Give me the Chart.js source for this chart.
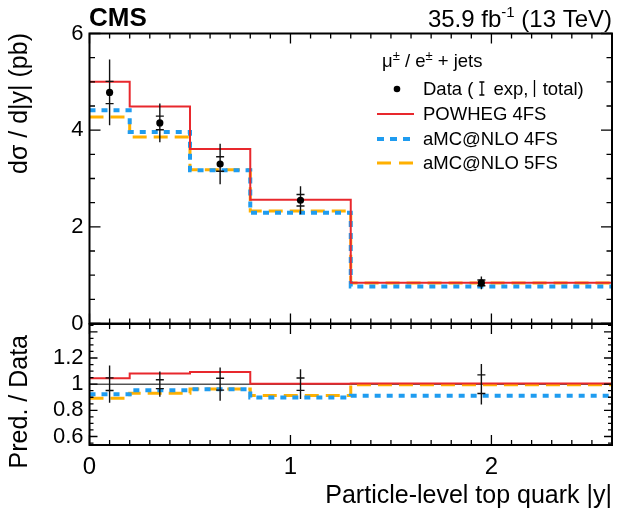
<!DOCTYPE html>
<html>
<head>
<meta charset="utf-8">
<script src="https://cdn.jsdelivr.net/npm/chart.js@4"></script>
<style>
  body { margin: 0; background: #fff; }
  #wrap { position: relative; width: 638px; height: 515px; }
  #wrap canvas { position: absolute; left: 0; top: 0; }
</style>
</head>
<body>
<div id="wrap">
  <canvas id="main" width="638" height="515"></canvas>
  <canvas id="ratio" width="638" height="515"></canvas>
</div>
<script>
// Bins en |y| du quark top et valeurs
const binEdges = [0, 0.2, 0.5, 0.8, 1.3, 2.6];
const dataVals = [4.78, 4.15, 3.30, 2.55, 0.84];
const dataExp = [0.23, 0.14, 0.15, 0.12, 0.06];
const dataTot = [0.68, 0.40, 0.42, 0.29, 0.13];
const powheg4FS = [5.00, 4.49, 3.61, 2.56, 0.845];
const amcnlo4FS = [4.41, 3.96, 3.17, 2.29, 0.765];
const amcnlo5FS = [4.27, 3.86, 3.18, 2.33, 0.837];

// Graduations
const xTickLabels = [0, 1, 2];
const yTickLabels = [0, 2, 4, 6];
const ratioTickLabels = [0.6, 0.8, 1, 1.2];

const FONT = "'Liberation Sans', Arial, Helvetica, sans-serif";
Chart.defaults.font.family = FONT;
Chart.defaults.color = '#000';

const RED = '#e8282d';
const BLUE = '#1f9cf0';
const ORANGE = '#ffb000';

// Centres des bins
const binCenters = dataVals.map((v, i) => (binEdges[i] + binEdges[i + 1]) / 2);

// Histogramme en escalier : une valeur par bord de bin
function stepPoints(vals) {
    return binEdges.map((e, i) => ({ x: e, y: vals[Math.min(i, vals.length - 1)] }));
}

// Barres d'erreur verticales (segments separes par des trous)
function errorSegments(center, errs) {
    let pts = [];
    binCenters.forEach((c, i) => {
        pts.push({ x: c, y: center[i] - errs[i] });
        pts.push({ x: c, y: center[i] + errs[i] });
        pts.push({ x: c, y: null });
    });
    return pts;
}

function capPoints(center, errs) {
    let pts = [];
    binCenters.forEach((c, i) => {
        pts.push({ x: c, y: center[i] - errs[i] });
        pts.push({ x: c, y: center[i] + errs[i] });
    });
    return pts;
}

const ones = dataVals.map(() => 1);
const ratioOf = arr => arr.map((v, i) => v / dataVals[i]);
const relExp = dataExp.map((e, i) => e / dataVals[i]);
const relTot = dataTot.map((e, i) => e / dataVals[i]);

function histDataset(vals, color, width, dash, order) {
    return {
        type: 'line', data: stepPoints(vals), stepped: true,
        borderColor: color, borderWidth: width, borderDash: dash,
        pointRadius: 0, fill: false, order: order
    };
}

// Cadre et graduations internes, style ROOT
const frameTicks = {
    id: 'frameTicks',
    afterDatasetsDraw(chart, args, opts) {
        const { ctx, chartArea: a } = chart;
        const x = chart.scales.x, y = chart.scales.y;
        ctx.save();
        ctx.strokeStyle = '#000';
        ctx.lineWidth = 1.3;
        ctx.beginPath();
        for (let k = 0; k <= 26; k++) {
            const px = x.getPixelForValue(k / 10);
            const len = k % 10 === 0 ? opts.xMajor : opts.xMinor;
            ctx.moveTo(px, a.bottom); ctx.lineTo(px, a.bottom - len);
            ctx.moveTo(px, a.top); ctx.lineTo(px, a.top + len);
        }
        const n0 = Math.ceil(y.min / opts.yStep - 1e-6);
        const n1 = Math.floor(y.max / opts.yStep + 1e-6);
        for (let n = n0; n <= n1; n++) {
            const py = y.getPixelForValue(n * opts.yStep);
            const len = n % opts.yEvery === 0 ? opts.yMajor : opts.yMinor;
            ctx.moveTo(a.left, py); ctx.lineTo(a.left + len, py);
            ctx.moveTo(a.right, py); ctx.lineTo(a.right - len, py);
        }
        ctx.stroke();
        ctx.lineWidth = 2;
        ctx.strokeRect(a.left, a.top, a.right - a.left, a.bottom - a.top);
        ctx.restore();
    }
};

function rotatedText(ctx, text, x, y, size) {
    ctx.save();
    ctx.translate(x, y);
    ctx.rotate(-Math.PI / 2);
    ctx.font = size + 'px ' + FONT;
    ctx.textAlign = 'right';
    ctx.textBaseline = 'alphabetic';
    ctx.fillText(text, 0, 0);
    ctx.restore();
}

// Textes du panneau principal : en-tete, titre y et legende
const mainTexts = {
    id: 'mainTexts',
    afterDraw(chart) {
        const ctx = chart.ctx;
        ctx.save();
        ctx.fillStyle = '#000';
        ctx.textBaseline = 'alphabetic';

        ctx.font = 'bold 26px ' + FONT;
        ctx.textAlign = 'left';
        ctx.fillText('CMS', 89, 26);

        // 35.9 fb^-1 (13 TeV), aligne a droite
        const a = '35.9 fb', c = ' (13 TeV)';
        ctx.font = '15px ' + FONT;
        const wb = ctx.measureText('-1').width;
        ctx.font = '24px ' + FONT;
        const wa = ctx.measureText(a).width, wc = ctx.measureText(c).width;
        let xs = 612 - wa - wb - wc;
        ctx.fillText(a, xs, 27);
        ctx.font = '15px ' + FONT;
        ctx.fillText('-1', xs + wa, 17);
        ctx.font = '24px ' + FONT;
        ctx.fillText(c, xs + wa + wb, 27);

        rotatedText(ctx, 'd\u03c3 / d|y| (pb)', 27, 33, 25);

        // Legende
        const LF = '18.5px ' + FONT;
        let lx = 382;
        const parts = [['\u03bc', 0], ['\u00b1', 1], [' / e', 0], ['\u00b1', 1], [' + jets', 0]];
        parts.forEach(p => {
            ctx.font = (p[1] ? '13px ' + FONT : LF);
            ctx.fillText(p[0], lx, p[1] ? 60 : 67);
            lx += ctx.measureText(p[0]).width;
        });

        ctx.font = LF;
        ctx.beginPath();
        ctx.arc(397, 89, 3.3, 0, 2 * Math.PI);
        ctx.fill();
        let tx = 423;
        ctx.fillText('Data (', tx, 95);
        tx += ctx.measureText('Data (').width + 6;
        ctx.strokeStyle = '#000';
        ctx.lineWidth = 1.3;
        ctx.beginPath();
        ctx.moveTo(tx + 2.5, 82); ctx.lineTo(tx + 2.5, 95);
        ctx.moveTo(tx, 82); ctx.lineTo(tx + 5, 82);
        ctx.moveTo(tx, 95); ctx.lineTo(tx + 5, 95);
        ctx.stroke();
        tx += 9;
        ctx.fillText(' exp,', tx, 95);
        tx += ctx.measureText(' exp,').width + 6;
        ctx.beginPath();
        ctx.moveTo(tx, 80); ctx.lineTo(tx, 97);
        ctx.stroke();
        tx += 3;
        ctx.fillText(' total)', tx, 95);

        const rows = [
            ['POWHEG 4FS', RED, 2, [], 114, 120],
            ['aMC@NLO 4FS', BLUE, 4, [7, 6], 139, 145],
            ['aMC@NLO 5FS', ORANGE, 3, [14, 8], 163, 169]
        ];
        rows.forEach(r => {
            ctx.strokeStyle = r[1];
            ctx.lineWidth = r[2];
            ctx.setLineDash(r[3]);
            ctx.beginPath();
            ctx.moveTo(377, r[4]); ctx.lineTo(414, r[4]);
            ctx.stroke();
            ctx.setLineDash([]);
            ctx.fillText(r[0], 423, r[5]);
        });
        ctx.restore();
    }
};

const ratioTexts = {
    id: 'ratioTexts',
    afterDraw(chart) {
        const ctx = chart.ctx;
        ctx.save();
        ctx.fillStyle = '#000';
        rotatedText(ctx, 'Pred. / Data', 27, 335, 25);
        ctx.font = '25px ' + FONT;
        ctx.textAlign = 'right';
        ctx.textBaseline = 'alphabetic';
        ctx.fillText('Particle-level top quark |y|', 612, 503);
        ctx.restore();
    }
};

const errStyle = { type: 'line', borderColor: '#111', borderWidth: 1.4, pointRadius: 0, spanGaps: false, fill: false };
const capStyle = { type: 'scatter', showLine: false, pointStyle: 'line', pointRadius: 4, borderColor: '#111', borderWidth: 1.4 };

// Panneau principal
new Chart(document.getElementById('main'), {
    data: {
        datasets: [
            histDataset(amcnlo5FS, ORANGE, 3, [14, 7], 5),
            histDataset(amcnlo4FS, BLUE, 4, [6, 6], 4),
            histDataset(powheg4FS, RED, 2, [], 3),
            Object.assign({ data: errorSegments(dataVals, dataTot), order: 2 }, errStyle),
            Object.assign({ data: capPoints(dataVals, dataExp), order: 1 }, capStyle),
            {
                type: 'scatter', data: binCenters.map((c, i) => ({ x: c, y: dataVals[i] })),
                pointRadius: 3.6, pointBackgroundColor: '#000', pointBorderWidth: 0, order: 0
            }
        ]
    },
    options: {
        responsive: false,
        animation: false,
        layout: { padding: { left: 0, top: 33.5, right: 26, bottom: 191.5 } },
        plugins: {
            legend: { display: false },
            tooltip: { enabled: false },
            frameTicks: { xMajor: 10, xMinor: 5, yStep: 0.5, yEvery: 4, yMajor: 11, yMinor: 5.5 }
        },
        scales: {
            x: { type: 'linear', min: 0, max: 2.6, display: false },
            y: {
                type: 'linear', min: 0, max: 6,
                grid: { display: false, drawTicks: false },
                border: { display: false },
                ticks: { font: { size: 22 }, padding: 6, color: '#000', callback: v => String(+v.toFixed(1)) },
                afterBuildTicks: s => { s.ticks = yTickLabels.map(v => ({ value: v })); },
                afterFit: s => { s.width = 89.5; }
            }
        }
    },
    plugins: [frameTicks, mainTexts]
});

// Panneau du rapport Pred. / Data
new Chart(document.getElementById('ratio'), {
    data: {
        datasets: [
            { type: 'line', data: [{ x: 0, y: 1 }, { x: 2.6, y: 1 }], borderColor: '#000', borderWidth: 1, pointRadius: 0, order: 6 },
            histDataset(ratioOf(amcnlo5FS), ORANGE, 3, [14, 7], 5),
            histDataset(ratioOf(amcnlo4FS), BLUE, 4, [6, 6], 4),
            histDataset(ratioOf(powheg4FS), RED, 2, [], 3),
            Object.assign({ data: errorSegments(ones, relTot), order: 2 }, errStyle),
            Object.assign({ data: capPoints(ones, relExp), order: 1 }, capStyle)
        ]
    },
    options: {
        responsive: false,
        animation: false,
        layout: { padding: { left: 0, top: 324, right: 26, bottom: 0 } },
        plugins: {
            legend: { display: false },
            tooltip: { enabled: false },
            frameTicks: { xMajor: 10, xMinor: 5, yStep: 0.05, yEvery: 4, yMajor: 8, yMinor: 4 }
        },
        scales: {
            x: {
                type: 'linear', min: 0, max: 2.6,
                grid: { display: false, drawTicks: false },
                border: { display: false },
                ticks: { font: { size: 24 }, padding: 8, color: '#000', callback: v => String(+v.toFixed(1)) },
                afterBuildTicks: s => { s.ticks = xTickLabels.map(v => ({ value: v })); },
                afterFit: s => { s.height = 70; }
            },
            y: {
                type: 'linear', min: 0.535, max: 1.46,
                grid: { display: false, drawTicks: false },
                border: { display: false },
                ticks: { font: { size: 22 }, padding: 6, color: '#000', callback: v => String(+v.toFixed(1)) },
                afterBuildTicks: s => { s.ticks = ratioTickLabels.map(v => ({ value: v })); },
                afterFit: s => { s.width = 89.5; }
            }
        }
    },
    plugins: [frameTicks, ratioTexts]
});
</script>
</body>
</html>
